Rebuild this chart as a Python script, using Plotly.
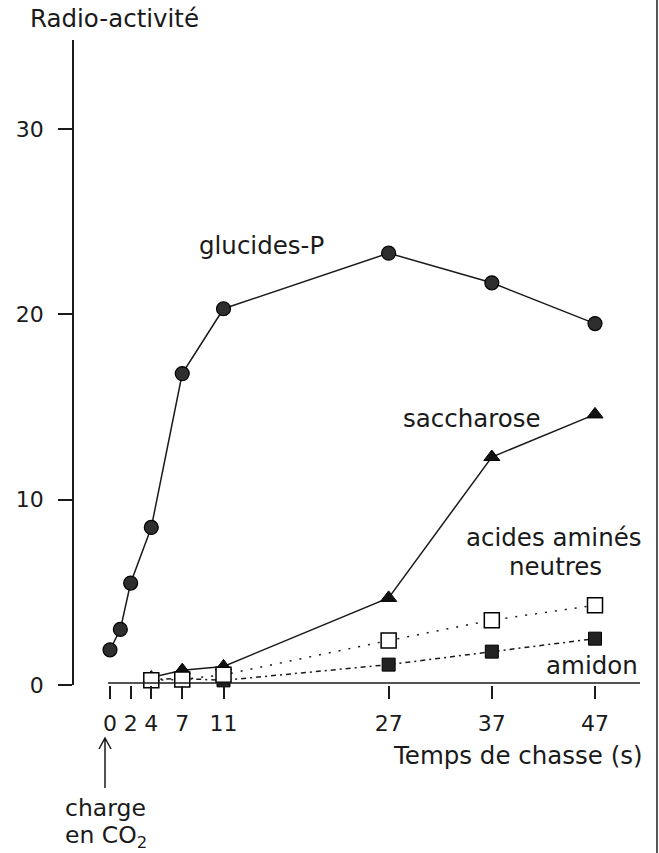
import plotly.graph_objects as go

# ---- data ----
temps_glucides = [0, 1, 2, 4, 7, 11, 27, 37, 47]
glucides_p = [1.9, 3.0, 5.5, 8.5, 16.8, 20.3, 23.3, 21.7, 19.5]

temps_saccharose = [4, 7, 11, 27, 37, 47]
saccharose = [0.4, 0.8, 1.0, 4.7, 12.3, 14.6]

temps_acides = [4, 7, 11, 27, 37, 47]
acides_amines = [0.25, 0.3, 0.55, 2.4, 3.5, 4.3]

temps_amidon = [4, 7, 11, 27, 37, 47]
amidon = [0.3, 0.35, 0.25, 1.1, 1.8, 2.5]

x_ticks = [0, 2, 4, 7, 11, 27, 37, 47]
y_ticks = [0, 10, 20, 30]

FONT = "DejaVu Sans, Arial, sans-serif"
INK = "#1a1a1a"

# plot area in page pixels (page body margin is removed below)
L, R, T, B = 74, 640, 40, 685
W, H = 659, 853


def px(xp):
    return (xp - L) / (R - L)


def py(yp):
    return (B - yp) / (B - T)


fig = go.Figure()

fig.add_trace(go.Scatter(
    x=temps_glucides, y=glucides_p, mode="lines+markers", cliponaxis=False,
    line=dict(color=INK, width=1.5),
    marker=dict(symbol="circle", size=14, color="#2e2e2e", line=dict(color="#000", width=1.2)),
    showlegend=False))

fig.add_trace(go.Scatter(
    x=temps_saccharose, y=saccharose, mode="lines+markers", cliponaxis=False,
    line=dict(color=INK, width=1.5),
    marker=dict(symbol="triangle-up", size=14, color="#111", line=dict(color="#000", width=1)),
    showlegend=False))

fig.add_trace(go.Scatter(
    x=temps_amidon, y=amidon, mode="lines+markers", cliponaxis=False,
    line=dict(color=INK, width=1.5, dash="5px,4px,2px,4px"),
    marker=dict(symbol="square", size=13, color="#222", line=dict(color="#000", width=1)),
    showlegend=False))

fig.add_trace(go.Scatter(
    x=temps_acides, y=acides_amines, mode="lines+markers", cliponaxis=False,
    line=dict(color=INK, width=1.5, dash="2px,8px"),
    marker=dict(symbol="square", size=15, color="white", line=dict(color="#000", width=1.5)),
    showlegend=False))

# x-axis baseline (separate from the y-axis, as in the figure)
fig.add_shape(type="line", xref="paper", yref="paper",
              x0=px(108), x1=px(640), y0=py(683), y1=py(683),
              line=dict(color=INK, width=1.5))

# right border of the scanned page
fig.add_shape(type="line", xref="paper", yref="paper",
              x0=px(657), x1=px(657), y0=py(0), y1=py(853),
              line=dict(color="#555", width=2))

# arrow pointing to t = 0 (open head)
ax_, top_, bot_ = 105, 738, 788
fig.add_shape(type="path", xref="paper", yref="paper",
              path=(f"M {px(ax_)},{py(bot_)} L {px(ax_)},{py(top_)} "
                    f"M {px(ax_ - 6)},{py(top_ + 11)} L {px(ax_)},{py(top_)} "
                    f"L {px(ax_ + 6)},{py(top_ + 11)}"),
              line=dict(color=INK, width=1.5))

ann_font = dict(family=FONT, size=24.5, color=INK)
small_font = dict(family=FONT, size=23.5, color=INK)

annotations = [
    dict(text="Radio-activité", x=px(28), y=py(19), xanchor="left", yanchor="middle", font=ann_font),
    dict(text="glucides-P", x=px(197), y=py(245), xanchor="left", yanchor="middle", font=ann_font),
    dict(text="saccharose", x=px(401), y=py(418), xanchor="left", yanchor="middle", font=ann_font),
    dict(text="acides aminés", x=px(554), y=py(537), xanchor="center", yanchor="middle", font=ann_font),
    dict(text="neutres", x=px(555), y=py(566), xanchor="center", yanchor="middle", font=ann_font),
    dict(text="amidon", x=px(640), y=py(665), xanchor="right", yanchor="middle", font=ann_font),
    dict(text="Temps de chasse (s)", x=px(645), y=py(755), xanchor="right", yanchor="middle",
         font=ann_font),
    dict(text="charge", x=px(105), y=py(808), xanchor="center", yanchor="middle", font=small_font),
    dict(text="en CO<sub>2</sub>", x=px(106), y=py(836), xanchor="center", yanchor="middle",
         font=small_font),
]
for a in annotations:
    a.update(xref="paper", yref="paper", showarrow=False)
    fig.add_annotation(**a)

fig.update_layout(
    width=W, height=H,
    margin=dict(l=L, r=W - R, t=T, b=H - B),
    paper_bgcolor="white", plot_bgcolor="white",
    font=dict(family=FONT, size=23, color=INK),
    xaxis=dict(range=[-3.49, 51.36], tickvals=x_ticks, ticktext=[str(v) for v in x_ticks],
               showgrid=False, zeroline=False, showline=False,
               ticks="outside", ticklen=13, tickwidth=1.5, tickcolor=INK,
               ticklabelstandoff=6, tickfont=dict(family=FONT, size=22, color=INK)),
    yaxis=dict(range=[0, 34.8], tickvals=y_ticks, showgrid=False, zeroline=False,
               showline=True, linecolor=INK, linewidth=1.5,
               ticks="outside", ticklen=14, tickwidth=1.5, tickcolor=INK,
               ticklabelstandoff=10, tickfont=dict(family=FONT, size=22, color=INK)),
)

fig.write_html("out.html",
               config={"displayModeBar": False},
               post_script="document.body.style.margin='0';"
                           "document.body.style.overflow='hidden';")
